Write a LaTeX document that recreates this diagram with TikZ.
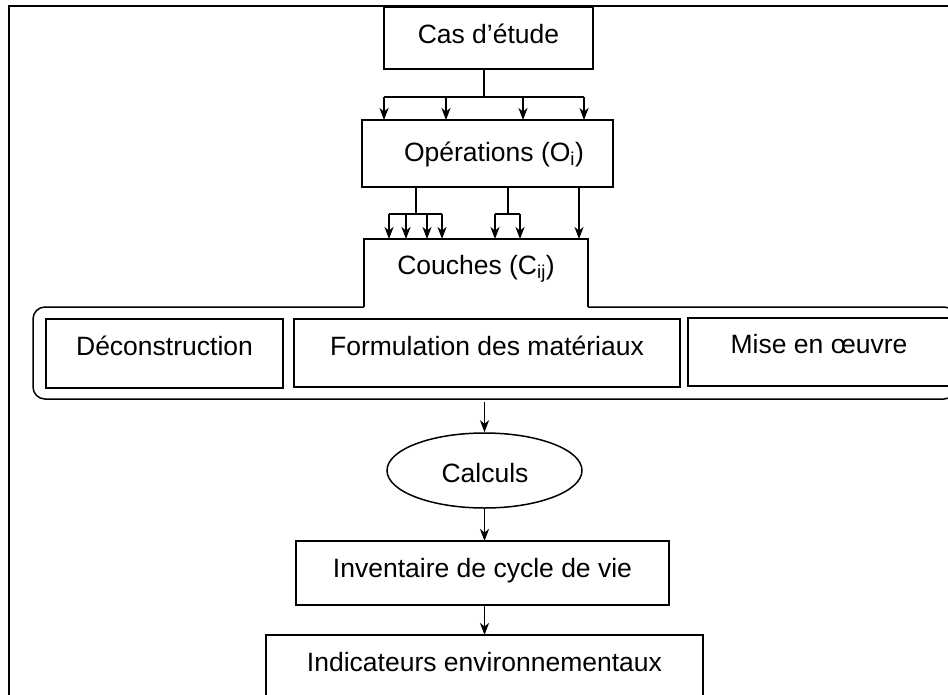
\documentclass[tikz,border=0pt]{standalone}
\usepackage{fontspec}
\setmainfont{Liberation Sans}
\usetikzlibrary{shapes.geometric,arrows.meta}
\begin{document}
\begin{tikzpicture}[x=1pt,y=-1pt,
  box/.style={draw, line width=1.5pt, inner sep=0pt, outer sep=0pt, rectangle},
  lbl/.style={inner sep=0pt, anchor=base, font=\fontsize{26.5}{30}\selectfont},
  arr/.style={-{Stealth[length=12pt,width=9pt,inset=3.5pt]}, line width=1.4pt},
  ln/.style={line width=1.4pt}]
\useasboundingbox (0,0) rectangle (948,694);
\clip (0,0) rectangle (948,694);

% outer frame
\coordinate (fBL) at (9,700);
\coordinate (fTL) at (9,6);
\coordinate (fTR) at (952,6);
\draw[line width=2.4pt] (fBL) -- (fTL) -- (fTR);

% boxes
\node[box, minimum width=209, minimum height=62] (cas) at (488.5,38) {};
\node[box, minimum width=251, minimum height=67] (ops) at (487.5,153.5) {};
\node[box, rounded corners=12pt, minimum width=923, minimum height=92] (cont) at (494.5,353) {};
\node[inner sep=0pt, outer sep=0pt, fill=white, minimum width=224, minimum height=70] (couches) at (476,274) {};
\draw[line width=1.5pt] ([yshift=2pt]couches.south west) -- (couches.north west) -- (couches.north east) -- ([yshift=2pt]couches.south east);
\node[box, minimum width=237, minimum height=69] (dec) at (164.5,353.5) {};
\node[box, minimum width=386, minimum height=68] (form) at (487,353) {};
\node[box, minimum width=272, minimum height=68] (mise) at (824,352) {};
\node[draw, ellipse, line width=1.5pt, inner sep=0pt, minimum width=195, minimum height=75] (calc) at (484.5,470.5) {};
\node[box, minimum width=373, minimum height=64] (inv) at (482.5,573) {};
\node[box, minimum width=437, minimum height=85] (ind) at (484.5,677.5) {};

% labels
\node[lbl] (casT) at (488.5,43) {Cas d’étude};
\node[lbl] (opsT) at (494,161) {Opérations (O\textsubscript{i})};
\node[lbl] (couT) at (476,274) {Couches (C\textsubscript{ij})};
\node[lbl] (decT) at (164.5,355) {Déconstruction};
\node[lbl] (formT) at (487,355) {Formulation des matériaux};
\node[lbl] (miseT) at (819,353) {Mise en œuvre};
\node[lbl] (calcT) at (485,482) {Calculs};
\node[lbl] (invT) at (482.5,577) {Inventaire de cycle de vie};
\node[lbl] (indT) at (484.5,671) {Indicateurs environnementaux};

% Cas -> Operations
\coordinate (b1) at (484,97);
\coordinate (b1L) at (384,97);
\coordinate (b1R) at (584,97);
\draw[ln] (b1 |- cas.south) -- (b1);
\draw[ln] (b1L) -- (b1R);
\foreach \x [count=\i] in {384,446,523,584} {
  \coordinate (o\i) at (\x,97);
  \draw[arr] (o\i) -- (o\i |- ops.north);
}

% Operations -> Couches
\coordinate (b2) at (416,214);
\coordinate (b2L) at (389,214);
\coordinate (b2R) at (442,214);
\draw[ln] (b2 |- ops.south) -- (b2);
\draw[ln] (b2L) -- (b2R);
\foreach \x [count=\i] in {389,406,427,442} {
  \coordinate (p\i) at (\x,214);
  \draw[arr] (p\i) -- (p\i |- couches.north);
}
\coordinate (b3) at (508,214);
\coordinate (b3L) at (495,214);
\coordinate (b3R) at (520,214);
\draw[ln] (b3 |- ops.south) -- (b3);
\draw[ln] (b3L) -- (b3R);
\foreach \x [count=\i] in {495,520} {
  \coordinate (q\i) at (\x,214);
  \draw[arr] (q\i) -- (q\i |- couches.north);
}
\coordinate (d1) at (579,214);
\draw[arr] (d1 |- ops.south) -- (d1 |- couches.north);

% lower chain
\draw[arr, shorten <=3pt] (calc.north |- cont.south) -- (calc.north);
\draw[arr] (calc.south) -- (calc.south |- inv.north);
\draw[arr] (calc.south |- inv.south) -- (calc.south |- ind.north);
\end{tikzpicture}
\end{document}
